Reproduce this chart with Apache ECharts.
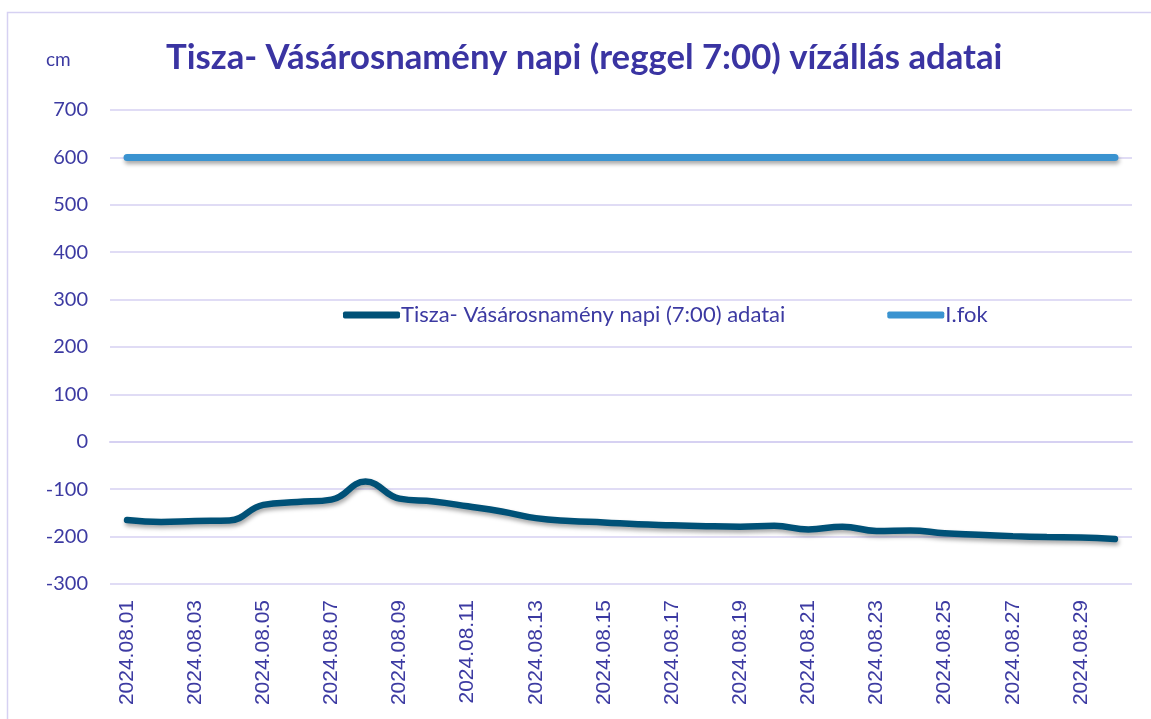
<!DOCTYPE html>
<html>
<head>
<meta charset="utf-8">
<title>Tisza- Vásárosnamény napi vízállás</title>
<script src="https://cdn.jsdelivr.net/npm/echarts@6/dist/echarts.min.js"></script>
<style>
    html, body { margin: 0; padding: 0; background: #fff; }
    #J_chart { width: 1151px; height: 719px; }
</style>
</head>
<body>
<div id="J_chart"></div>
<script>
// napok (kategóriák)
var dates = [
    '2024.08.01', '2024.08.02', '2024.08.03', '2024.08.04', '2024.08.05',
    '2024.08.06', '2024.08.07', '2024.08.08', '2024.08.09', '2024.08.10',
    '2024.08.11', '2024.08.12', '2024.08.13', '2024.08.14', '2024.08.15',
    '2024.08.16', '2024.08.17', '2024.08.18', '2024.08.19', '2024.08.20',
    '2024.08.21', '2024.08.22', '2024.08.23', '2024.08.24', '2024.08.25',
    '2024.08.26', '2024.08.27', '2024.08.28', '2024.08.29', '2024.08.30'
];
// reggel 7:00 vízállás, cm
var waterLevel = [
    -165, -169, -167, -166, -133, -127, -122, -84, -120, -126,
    -136, -147, -161, -167, -170, -174, -176, -178, -179, -177,
    -185, -179, -188, -187, -193, -196, -199, -201, -202, -205
];
// I. fokú készültség
var firstLevel = [
    600, 600, 600, 600, 600, 600, 600, 600, 600, 600,
    600, 600, 600, 600, 600, 600, 600, 600, 600, 600,
    600, 600, 600, 600, 600, 600, 600, 600, 600, 600
];
var yTicks = { min: -300, max: 700, interval: 100 };

var textColor = '#3c3aa2';
var gridColor = '#d6d1f2';

var WaterChart = function(cfg){
    var chart = {
        init: function(){
            this.chartInstance = echarts.init(document.getElementById(cfg.divId));
            this.configOption();
            this.chartInstance.setOption(this.option);
        },
        configOption: function(){
            var lineShadow = {
                shadowColor: 'rgba(0,0,0,0.35)',
                shadowBlur: 4,
                shadowOffsetX: 1,
                shadowOffsetY: 3
            };
            this.option = {
                animation: false,
                graphic: [{
                    type: 'rect',
                    shape: { x: 7.5, y: 12.5, width: 1300, height: 900 },
                    style: { fill: 'none', stroke: gridColor, lineWidth: 1.5 },
                    silent: true
                }, {
                    type: 'text',
                    left: 46,
                    top: 50,
                    style: {
                        text: 'cm',
                        fill: textColor,
                        font: '19px Lato, "Open Sans", sans-serif'
                    }
                }],
                title: {
                    text: cfg.title,
                    left: 161,
                    top: 35,
                    textStyle: {
                        color: '#3a34a2',
                        fontSize: 34.7,
                        fontWeight: 'bold',
                        fontFamily: 'Lato, "Open Sans", sans-serif'
                    }
                },
                legend: {
                    left: 338,
                    top: 299,
                    itemWidth: 57,
                    itemHeight: 7,
                    itemGap: 102,
                    icon: 'roundRect',
                    textStyle: {
                        color: textColor,
                        fontSize: 22,
                        padding: [0, 0, 0, -4],
                        fontFamily: 'Lato, "Open Sans", sans-serif'
                    }
                },
                grid: {
                    left: 110,
                    right: 19,
                    top: 110,
                    bottom: 135
                },
                xAxis: [{
                    type: 'category',
                    data: dates,
                    boundaryGap: true,
                    axisLine: { show: false, onZero: false },
                    axisTick: { show: false },
                    axisLabel: {
                        interval: 1,
                        rotate: 90,
                        margin: 16,
                        color: textColor,
                        fontSize: 21,
                        fontFamily: '"Liberation Sans", Arial, sans-serif'
                    }
                }, {
                    type: 'category',
                    data: dates,
                    boundaryGap: true,
                    axisLine: {
                        onZero: true,
                        onZeroAxisIndex: 0,
                        lineStyle: { color: gridColor, width: 2 }
                    },
                    axisTick: {
                        interval: 1,
                        length: 7,
                        lineStyle: { color: gridColor, width: 2 }
                    },
                    axisLabel: { show: false }
                }],
                yAxis: {
                    type: 'value',
                    min: yTicks.min,
                    max: yTicks.max,
                    interval: yTicks.interval,
                    axisLine: { show: false },
                    axisTick: { show: false },
                    splitLine: {
                        lineStyle: { color: gridColor, width: 1.5 }
                    },
                    axisLabel: {
                        margin: 22,
                        color: textColor,
                        fontSize: 20,
                        fontFamily: 'Lato, "Open Sans", sans-serif'
                    }
                },
                series: [{
                    name: 'Tisza- Vásárosnamény napi (7:00) adatai',
                    type: 'line',
                    xAxisIndex: 0,
                    smooth: 0.45,
                    symbol: 'none',
                    itemStyle: { color: '#005177' },
                    lineStyle: Object.assign({ color: '#005177', width: 6.5, cap: 'round' }, lineShadow),
                    data: waterLevel
                }, {
                    name: 'I.fok',
                    type: 'line',
                    xAxisIndex: 0,
                    symbol: 'none',
                    itemStyle: { color: '#3a93d0' },
                    lineStyle: Object.assign({ color: '#3a93d0', width: 7, cap: 'round' }, lineShadow),
                    data: firstLevel
                }]
            };
        }
    };
    return chart;
};

(function(){
    var chartObj = new WaterChart({
        divId: 'J_chart',
        title: 'Tisza- Vásárosnamény napi (reggel 7:00) vízállás adatai'
    });
    chartObj.init();
})();
</script>
</body>
</html>
